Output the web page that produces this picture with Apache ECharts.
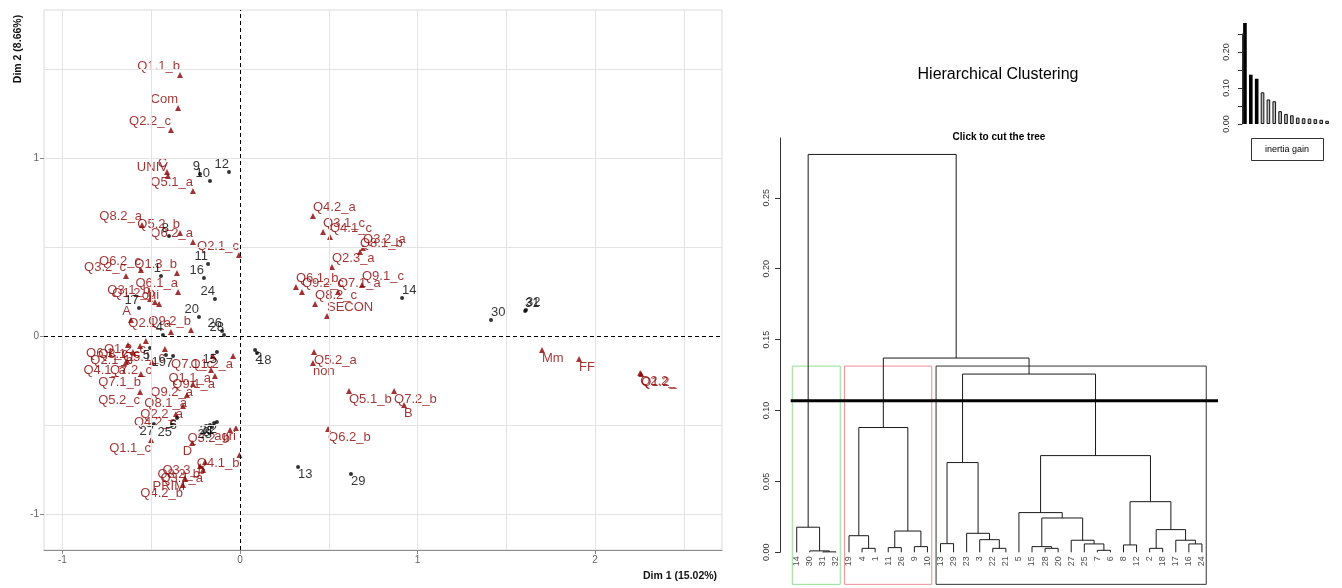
<!DOCTYPE html>
<html><head><meta charset="utf-8">
<script src="https://cdn.jsdelivr.net/npm/echarts@6/dist/echarts.min.js"></script>
<style>html,body{margin:0;padding:0;background:#fff}#c{width:1342px;height:588px}</style>
</head><body><div id="c"></div>
<script>
// ---------- Factor map: individuals ----------
const indNames = ['1','2','3','4','5','6','7','8','9','10','11','12','13','14','15','16','17','18','19','20','21','22','23','24','25','26','27','28','29','30','31','32'];
const indX = [-0.445,0.085,-0.169,-0.434,-0.507,-0.355,-0.377,-0.4,-0.225,-0.169,-0.18,-0.062,0.327,0.913,-0.13,-0.203,-0.569,0.096,-0.417,-0.231,-0.146,-0.13,-0.158,-0.141,-0.383,-0.101,-0.485,-0.09,0.625,1.414,1.606,1.611];
const indY = [0.337,-0.079,-0.5,0.006,-0.067,-0.461,-0.112,0.562,0.91,0.871,0.404,0.921,-0.736,0.213,-0.09,0.326,0.157,-0.096,-0.107,0.107,-0.489,-0.483,-0.511,0.208,-0.5,0.028,-0.494,0.006,-0.775,0.09,0.14,0.146];

// ---------- Factor map: categories ----------
const catNames = ['Q1.1_b','Com','Q2.2_c','C','UNIV','Q5.1_a','Q8.2_a','Q5.2_b','Q6.2_a','Q2.1_c','Q6.2_c','Q3.2_c','Q1.3_b','Q6.1_a','Q3.1_b','Q1.2_b','oui','A','Q2.1_a','Q9.2_b',
 'Q6.1_c','Q2.1_b','Q8.1_c','Q4.1_a','Q7.2_c','Q1.2_c','Q5.1_c','Q7.1_c','Q1.2_a','Q7.1_b','Q5.2_c','Q8.1_a','Q9.2_a','Q9.1_a','Q1.1_a','Q2.2_a','Q4.2_c','Q1.1_c','Q3.2_b','agri','D','Q4.1_b','Q8.2_b','Q3.3_b','Q3.1_a','PRIM','Q4.2_b',
 'Q4.2_a','Q3.1_c','Q4.1_c','Q3.2_a','Q8.1_b','Q2.3_a','Q9.1_c','Q7.1_a','Q6.1_b','Q9.2_c','Q8.2_c','SECON','Q5.2_a','non','Q5.1_b','Q7.2_b','B','Q6.2_b','Mm','FF','Q2.2_','Q1.2_'];
const catX = [-0.338,-0.349,-0.389,-0.411,-0.406,-0.265,-0.552,-0.338,-0.265,-0.006,-0.558,-0.642,-0.355,-0.349,-0.507,-0.479,-0.456,-0.614,-0.389,-0.276,
 -0.631,-0.603,-0.563,-0.642,-0.496,-0.53,-0.423,-0.152,-0.039,-0.558,-0.563,-0.299,-0.265,-0.141,-0.163,-0.321,-0.361,-0.501,-0.056,-0.023,-0.27,-0.003,-0.225,-0.197,-0.208,-0.31,-0.321,
 0.411,0.468,0.507,0.693,0.676,0.518,0.687,0.552,0.315,0.349,0.423,0.49,0.417,0.411,0.614,0.868,0.924,0.496,1.701,1.91,2.254,2.26];
const catY = [1.466,1.281,1.157,0.921,0.899,0.815,0.624,0.579,0.528,0.455,0.371,0.337,0.354,0.247,0.208,0.191,0.18,0.09,0.022,0.034,
 -0.051,-0.09,-0.056,-0.146,-0.146,-0.028,-0.073,-0.112,-0.112,-0.213,-0.315,-0.331,-0.27,-0.225,-0.191,-0.393,-0.438,-0.584,-0.528,-0.517,-0.601,-0.669,-0.73,-0.708,-0.753,-0.798,-0.837,
 0.674,0.584,0.556,0.494,0.472,0.388,0.287,0.247,0.275,0.247,0.18,0.112,-0.09,-0.152,-0.309,-0.309,-0.388,-0.522,-0.079,-0.129,-0.208,-0.213];

const mapTicksX = [-1,0,1,2];
const mapTicksY = [-1,0,1];
const mapGridX = [-1,-0.5,0.5,1,1.5,2,2.5];
const mapGridY = [-1,-0.5,0.5,1,1.5];
const dim1Title = 'Dim 1 (15.02%)';
const dim2Title = 'Dim 2 (8.66%)';

// ---------- Dendrogram ----------
const leafOrder = [14,30,31,32,19,4,1,11,26,9,10,13,29,23,3,22,21,5,15,28,20,27,25,7,6,8,12,2,18,17,16,24];
// R hclust-style merges: negative = individual, positive = earlier merge (1-based)
const mergeA = [-31,-7,-30,-4,-22,-28,-2,-11,-9,-15,-8,-25,-16,-13,-27,-17,-3,-19,-23,8,7,-14,10,-5,11,14,24,18,26,28,22];
const mergeB = [-32,-6,1,-1,-21,-20,-18,-26,-10,6,-12,2,-24,-29,12,13,5,4,17,9,16,3,15,23,21,19,25,20,27,29,30];
const mergeH = [0.0003,0.0014,0.001,0.0028,0.0028,0.0028,0.0028,0.0033,0.004,0.004,0.0052,0.0059,0.0059,0.0061,0.0085,0.0085,0.0089,0.0117,0.0134,0.015,0.016,0.0177,0.0242,0.028,0.0357,0.0633,0.0682,0.088,0.1257,0.137,0.2806];
const clusterSizes = [4,7,21];
const clusterColors = ['#93e093','#ef8f99','#333333'];
const cutHeight = 0.1068;
const dendroTicks = [0,0.05,0.1,0.15,0.2,0.25];

// ---------- Inertia gain inset ----------
const inertiaGain = [0.2806,0.137,0.1257,0.088,0.0682,0.0633,0.0357,0.028,0.0242,0.0177,0.016,0.015,0.0134,0.0117,0.0089];
const inertiaTicks = [0,0.05,0.1,0.15,0.2,0.25];
const inertiaLabels = [0,0.1,0.2];

const FONT = 'Liberation Sans, Arial, sans-serif';

function lab(x, y, color){
  return {
    show:true,
    position: y >= 0 ? 'top' : 'bottom',
    align: x >= 0 ? 'left' : 'right',
    verticalAlign: y >= 0 ? 'bottom' : 'top',
    distance: -1,
    color: color, fontSize: 13, fontFamily: FONT
  };
}

const catData = catNames.map((n,i)=>({name:n, value:[catX[i],catY[i]], label: Object.assign(lab(catX[i],catY[i],'#8B0000'),{formatter:n})}));
const indData = indNames.map((n,i)=>({name:n, value:[indX[i],indY[i]], label: Object.assign(lab(indX[i],indY[i],'#000'),{formatter:n})}));

// dendrogram geometry from merges
const leafPos = {};
leafOrder.forEach((id,i)=>{ leafPos[id] = {x:i, h:0}; });
const nodes = [];
const segs = [];
function ref(v){ return v < 0 ? leafPos[-v] : nodes[v-1]; }
for (let k=0;k<mergeH.length;k++){
  const a = ref(mergeA[k]), b = ref(mergeB[k]), h = mergeH[k];
  segs.push({coords:[[a.x,a.h],[a.x,h],[b.x,h],[b.x,b.h]]});
  nodes.push({x:(a.x+b.x)/2, h:h});
}
// cluster rectangles (rect.hclust style)
const boxTop = (mergeH[mergeH.length-2] + mergeH[mergeH.length-3]) / 2;
const boxBottom = -0.0226;
const boxes = [];
let start = 0;
clusterSizes.forEach((s,ci)=>{
  const l = start - 0.34, r = start + s - 1 + 0.33;
  boxes.push({coords:[[l,boxBottom],[l,boxTop],[r,boxTop],[r,boxBottom],[l,boxBottom]], lineStyle:{color:clusterColors[ci]}});
  start += s;
});

const gridLines = mapGridX.map(v=>({xAxis:v})).concat(mapGridY.map(v=>({yAxis:v})));

const chart = echarts.init(document.getElementById('c'), null, {renderer:'canvas'});
chart.setOption({
  animation:false,
  textStyle:{fontFamily:FONT},
  grid:[
    {left:44, right:620, top:10, bottom:38, show:true, borderColor:'#dadada', borderWidth:1},
    {left:780, right:124, top:138, bottom:35.7},
    {left:1242, right:12, top:34, bottom:464}
  ],
  xAxis:[
    {gridIndex:0, type:'value', min:-1.104, max:2.715,
      axisLine:{show:true, onZero:false, lineStyle:{color:'#8a8a8a'}},
      axisTick:{show:true, customValues:mapTicksX, length:4, lineStyle:{color:'#8a8a8a'}},
      axisLabel:{customValues:mapTicksX, color:'#666', fontSize:10, margin:5},
      splitLine:{show:false}},
    {gridIndex:1, type:'value', min:-1.28, max:32.23, show:false, axisLine:{onZero:false}},
    {gridIndex:2, type:'category', data:inertiaGain.map((v,i)=>String(i+1)), show:false, axisLine:{onZero:false}}
  ],
  yAxis:[
    {gridIndex:0, type:'value', min:-1.202, max:1.831,
      axisLine:{show:false, onZero:false},
      axisTick:{show:true, customValues:mapTicksY, length:4, lineStyle:{color:'#8a8a8a'}},
      axisLabel:{customValues:mapTicksY, color:'#666', fontSize:10, margin:5},
      splitLine:{show:false}},
    {gridIndex:1, type:'value', min:0, max:0.2922, position:'left',
      axisLine:{show:true, onZero:false, lineStyle:{color:'#333'}},
      axisTick:{show:true, customValues:dendroTicks, length:5, lineStyle:{color:'#333'}},
      axisLabel:{customValues:dendroTicks, rotate:90, fontSize:9, color:'#333', margin:9, formatter:v=>Number(v).toFixed(2)},
      splitLine:{show:false}},
    {gridIndex:2, type:'value', min:0, max:0.25, position:'left',
      axisLine:{show:true, onZero:false, lineStyle:{color:'#333'}},
      axisTick:{show:true, customValues:inertiaTicks, length:4, lineStyle:{color:'#333'}},
      axisLabel:{customValues:inertiaLabels, rotate:90, fontSize:9, color:'#333', margin:11, formatter:v=>Number(v).toFixed(2)},
      splitLine:{show:false}}
  ],
  series:[
    {type:'scatter', xAxisIndex:0, yAxisIndex:0, data:[], z:1, silent:true,
      markLine:{silent:true, symbol:['none','none'], label:{show:false},
        lineStyle:{color:'#e3e3e3', type:'solid', width:1}, data:gridLines}},
    {type:'scatter', xAxisIndex:0, yAxisIndex:0, data:[], z:2, silent:true,
      markLine:{silent:true, symbol:['none','none'], label:{show:false},
        lineStyle:{color:'#000', type:[4,3], width:1}, data:[{xAxis:0},{yAxis:0}]}},
    {type:'scatter', name:'categories', xAxisIndex:0, yAxisIndex:0, symbol:'triangle', symbolSize:6,
      itemStyle:{color:'#8B0000'}, data:catData, z:3},
    {type:'scatter', name:'individuals', xAxisIndex:0, yAxisIndex:0, symbol:'circle', symbolSize:4,
      itemStyle:{color:'#000'}, data:indData, z:4},
    {type:'lines', coordinateSystem:'cartesian2d', xAxisIndex:1, yAxisIndex:1, polyline:true, clip:false,
      lineStyle:{color:'#1a1a1a', width:1, opacity:1}, data:segs, z:3},
    {type:'lines', coordinateSystem:'cartesian2d', xAxisIndex:1, yAxisIndex:1, polyline:true, clip:false,
      lineStyle:{width:1, opacity:1}, data:boxes, z:2},
    {type:'lines', coordinateSystem:'cartesian2d', xAxisIndex:1, yAxisIndex:1, polyline:true, clip:false,
      lineStyle:{color:'#000', width:3, opacity:1}, data:[{coords:[[-0.46,cutHeight],[32.23,cutHeight]]}], z:4},
    {type:'scatter', xAxisIndex:1, yAxisIndex:1, symbolSize:0, itemStyle:{color:'rgba(0,0,0,0)'}, silent:true,
      data: leafOrder.map((id,i)=>({name:String(id), value:[i,0]})),
      label:{show:true, formatter:p=>p.name, rotate:90, position:'bottom', align:'right', verticalAlign:'middle', distance:4, fontSize:9, color:'#222'}},
    {type:'bar', xAxisIndex:2, yAxisIndex:2, clip:false, barWidth:'62%',
      data: inertiaGain.map((v,i)=>({value:v, itemStyle: i<3 ? {color:'#000'} : {color:'#bdbdbd', borderColor:'#111', borderWidth:1}}))}
  ],
  graphic:[
    {type:'text', left:643, top:571, style:{text:dim1Title, font:'bold 10.5px '+FONT, fill:'#111'}},
    {type:'text', x:18, y:49, rotation:Math.PI/2, style:{text:dim2Title, font:'bold 10.5px '+FONT, fill:'#111', textAlign:'center', textVerticalAlign:'middle'}},
    {type:'text', x:998, y:75, style:{text:'Hierarchical Clustering', font:'16px '+FONT, fill:'#000', textAlign:'center', textVerticalAlign:'middle'}},
    {type:'text', x:999, y:137, style:{text:'Click to cut the tree', font:'bold 10px '+FONT, fill:'#000', textAlign:'center', textVerticalAlign:'middle'}},
    {type:'rect', shape:{x:1251.5, y:138.5, width:72, height:22}, style:{fill:'#fff', stroke:'#333', lineWidth:1}},
    {type:'text', x:1287, y:150, style:{text:'inertia gain', font:'9px '+FONT, fill:'#000', textAlign:'center', textVerticalAlign:'middle'}}
  ]
});
</script></body></html>
